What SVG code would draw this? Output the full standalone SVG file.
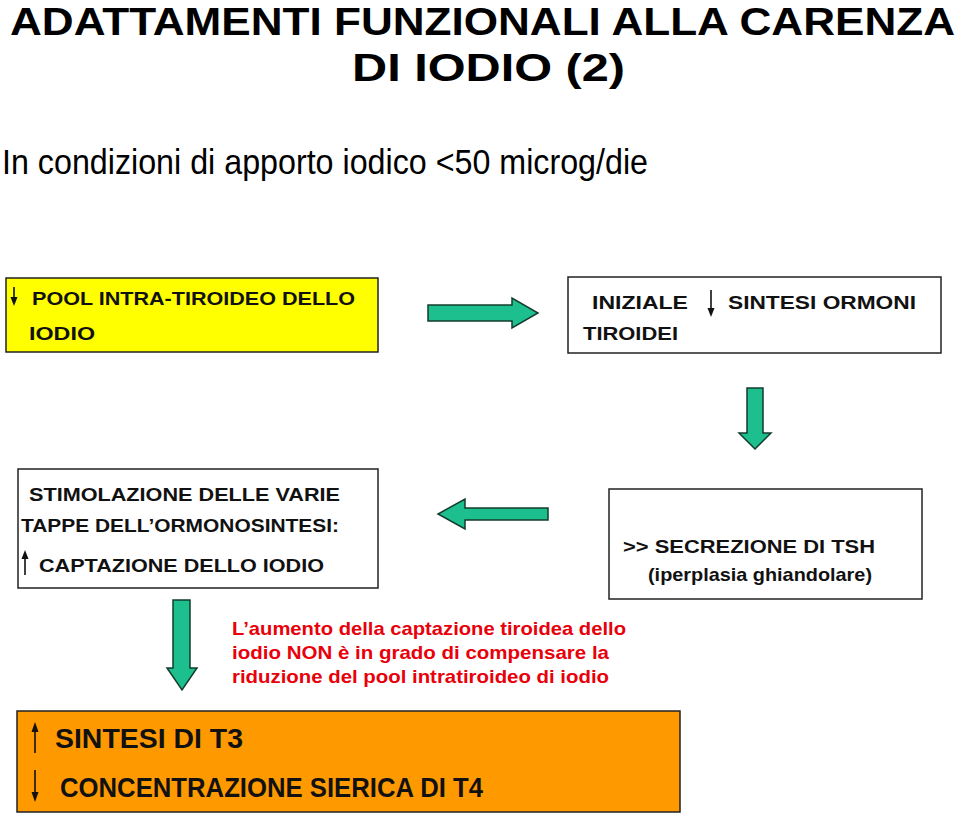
<svg xmlns="http://www.w3.org/2000/svg" width="959" height="815" viewBox="0 0 959 815">
<defs>
<style>
.t{font-family:"Liberation Sans Narrow","Liberation Sans",Arial,sans-serif;fill:#000}
.title{font-size:38px;font-weight:bold}
.sub{font-size:35px}
.bx{font-family:"Liberation Sans",Arial,sans-serif;font-size:19px;font-weight:bold;fill:#111}
.red{font-family:"Liberation Sans",Arial,sans-serif;font-size:19px;font-weight:bold;fill:#E8000B}
.big{font-family:"Liberation Sans Narrow","Liberation Sans",Arial,sans-serif;font-size:27px;font-weight:bold;fill:#111}
.box{stroke:#222;stroke-width:1.5}
.ga{fill:#1DBF8E;stroke:#143c2c;stroke-width:1.5;stroke-linejoin:miter}
.ar{stroke:#111;stroke-width:1.6;fill:none}
.ah{fill:#111}
</style>
</defs>
<rect width="959" height="815" fill="#fff"/>
<g id="title">
<text class="t title" x="10" y="35" textLength="945" lengthAdjust="spacingAndGlyphs">ADATTAMENTI FUNZIONALI ALLA CARENZA</text>
<text class="t title" x="352" y="81" textLength="273" lengthAdjust="spacingAndGlyphs">DI IODIO (2)</text>
</g>
<g id="subtitle">
<text class="t sub" x="2" y="174" textLength="646" lengthAdjust="spacingAndGlyphs">In condizioni di apporto iodico &lt;50 microg/die</text>
</g>
<g id="node-pool">
<rect class="box" x="6" y="278" width="372" height="74" fill="#FFFF00"/>
<line class="ar" x1="14" y1="287" x2="14" y2="298"/><path class="ah" d="M10.5,297 L17.5,297 L14,306 Z"/>
<text class="bx" x="32" y="305" textLength="323" lengthAdjust="spacingAndGlyphs">POOL INTRA-TIROIDEO DELLO</text>
<text class="bx" x="29" y="340" textLength="66" lengthAdjust="spacingAndGlyphs">IODIO</text>
</g>
<g id="node-sintesi">
<rect class="box" x="568" y="277" width="373" height="76" fill="#fff"/>
<text class="bx" x="592" y="309" textLength="96" lengthAdjust="spacingAndGlyphs">INIZIALE</text>
<line class="ar" x1="711" y1="290" x2="711" y2="310"/><path class="ah" d="M707.5,308 L714.5,308 L711,317 Z"/>
<text class="bx" x="728" y="309" textLength="188" lengthAdjust="spacingAndGlyphs">SINTESI ORMONI</text>
<text class="bx" x="583" y="340" textLength="95" lengthAdjust="spacingAndGlyphs">TIROIDEI</text>
</g>
<g id="node-stimolazione">
<rect class="box" x="18" y="469" width="360" height="119" fill="#fff"/>
<text class="bx" x="29" y="501" textLength="311" lengthAdjust="spacingAndGlyphs">STIMOLAZIONE DELLE VARIE</text>
<text class="bx" x="21" y="532" textLength="318" lengthAdjust="spacingAndGlyphs">TAPPE DELL’ORMONOSINTESI:</text>
<line class="ar" x1="25" y1="557" x2="25" y2="575"/><path class="ah" d="M21.5,559 L28.5,559 L25,550 Z"/>
<text class="bx" x="39" y="572" textLength="285" lengthAdjust="spacingAndGlyphs">CAPTAZIONE DELLO IODIO</text>
</g>
<g id="node-tsh">
<rect class="box" x="609" y="489" width="313" height="110" fill="#fff"/>
<text class="bx" x="623" y="553" textLength="252" lengthAdjust="spacingAndGlyphs">&gt;&gt; SECREZIONE DI TSH</text>
<text class="bx" x="648" y="581" textLength="224" lengthAdjust="spacingAndGlyphs">(iperplasia ghiandolare)</text>
</g>
<g id="note">
<text class="red" x="232" y="635" textLength="394" lengthAdjust="spacingAndGlyphs">L’aumento della captazione tiroidea dello</text>
<text class="red" x="232" y="659" textLength="377" lengthAdjust="spacingAndGlyphs">iodio NON è in grado di compensare la</text>
<text class="red" x="232" y="683" textLength="377" lengthAdjust="spacingAndGlyphs">riduzione del pool intratiroideo di iodio</text>
</g>
<g id="node-t3t4">
<rect class="box" x="17" y="711" width="663" height="101" fill="#FF9900"/>
<line class="ar" x1="35" y1="730" x2="35" y2="753"/><path class="ah" d="M31.5,732 L38.5,732 L35,722 Z"/>
<text class="big" x="55" y="748" textLength="188" lengthAdjust="spacingAndGlyphs">SINTESI DI T3</text>
<line class="ar" x1="35" y1="770" x2="35" y2="794"/><path class="ah" d="M31.5,792 L38.5,792 L35,802 Z"/>
<text class="big" x="60" y="797" textLength="423" lengthAdjust="spacingAndGlyphs">CONCENTRAZIONE SIERICA DI T4</text>
</g>
<g id="connectors">
<path class="ga" d="M428,305 L512,305 L512,298 L538,313 L512,328 L512,321 L428,321 Z"/>
<path class="ga" d="M747,388 L763,388 L763,433 L771,433 L755,449 L739,433 L747,433 Z"/>
<path class="ga" d="M548,508 L465,508 L465,499 L438,514 L465,529 L465,520 L548,520 Z"/>
<path class="ga" d="M173,600 L190,600 L190,668 L197,668 L182,690 L167,668 L173,668 Z"/>
</g>
</svg>
